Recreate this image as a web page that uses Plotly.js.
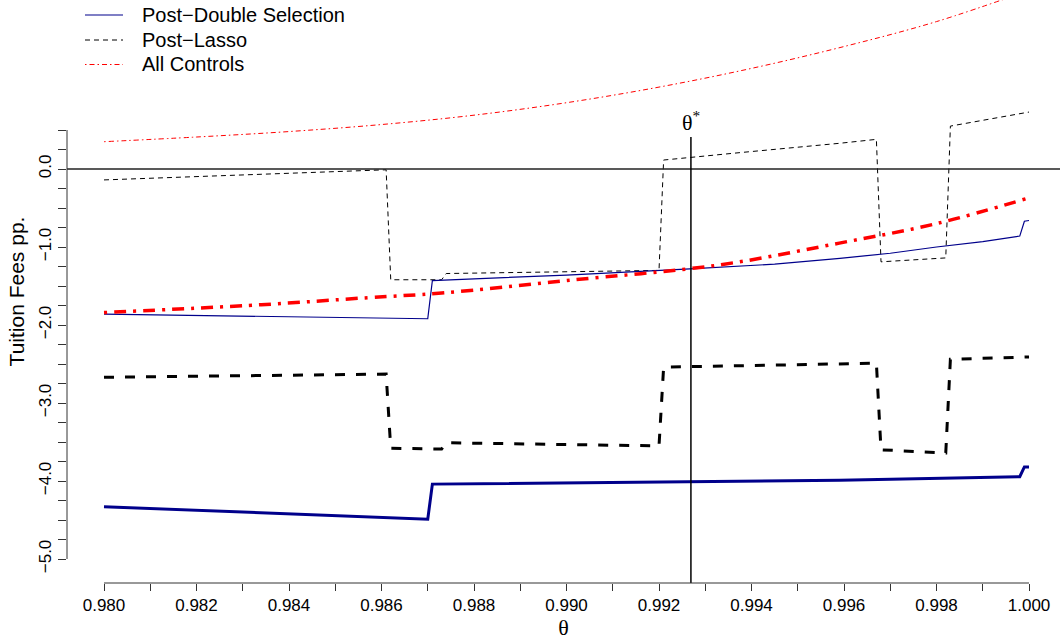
<!DOCTYPE html>
<html><head><meta charset="utf-8">
<script src="https://cdn.plot.ly/plotly-3.0.1.min.js"></script>
<style>html,body{margin:0;padding:0;background:#fff}</style>
</head><body>
<div id="chart" style="width:1060px;height:641px"></div>
<script>
// ---- data ----
const legendLabels = ["Post\u2212Double Selection", "Post\u2212Lasso", "All Controls"];
const xTickVals = [0.980,0.982,0.984,0.986,0.988,0.990,0.992,0.994,0.996,0.998,1.000];
const xTickText = ["0.980","0.982","0.984","0.986","0.988","0.990","0.992","0.994","0.996","0.998","1.000"];
const xMinorVals = [0.981,0.983,0.985,0.987,0.989,0.991,0.993,0.995,0.997,0.999];
const yTickVals = [-5,-4,-3,-2,-1,0];
const yTickText = ["\u22125.0","\u22124.0","\u22123.0","\u22122.0","\u22121.0","0.0"];
const yMinorVals = [-4.75,-4.5,-4.25,-3.75,-3.5,-3.25,-2.75,-2.5,-2.25,-1.75,-1.5,-1.25,-0.75,-0.5,-0.25,0.25,0.5];
const thetaStar = 0.99269;

// Post-Double Selection (thin)
const pdsThinTheta = [0.9800,0.9870,0.9871,0.9900,0.99267,0.9945,0.99591,0.9970,0.9980,0.9990,0.9998,0.9999,1.0000];
const pdsThinValue = [-1.86,-1.92,-1.43,-1.36,-1.28,-1.22,-1.145,-1.08,-1.00,-0.93,-0.86,-0.67,-0.66];
// Post-Lasso (thin)
const plThinTheta = [0.9800,0.9830,0.9861,0.9862,0.9873,0.9874,0.9920,0.9921,0.99269,0.99375,0.99591,0.9967,0.9968,0.9982,0.9983,0.9999,1.0000];
const plThinValue = [-0.14,-0.075,-0.01,-1.42,-1.42,-1.34,-1.30,0.115,0.15,0.21,0.33,0.38,-1.19,-1.14,0.55,0.72,0.73];
// All Controls (thin)
const acThinTheta = [0.980,0.982,0.984,0.986,0.988,0.990,0.992,0.994,0.996,0.998,1.000];
const acThinValue = [0.35,0.41,0.48,0.57,0.69,0.85,1.05,1.29,1.57,1.89,2.29];
// Post-Double Selection (thick)
const pdsThickTheta = [0.9800,0.9870,0.9871,0.99332,0.99591,0.9998,0.9999,1.0000];
const pdsThickValue = [-4.33,-4.49,-4.04,-4.01,-3.99,-3.945,-3.82,-3.82];
// Post-Lasso (thick)
const plThickTheta = [0.9800,0.9861,0.9862,0.9873,0.9874,0.9920,0.9921,0.9967,0.9968,0.9982,0.9983,1.0000];
const plThickValue = [-2.67,-2.63,-3.58,-3.59,-3.51,-3.55,-2.54,-2.49,-3.60,-3.64,-2.44,-2.41];
// All Controls (thick)
const acThickTheta = [0.9800,0.9834,0.9857,0.9873,0.9900,0.9933,0.9959,0.9980,1.0000];
const acThickValue = [-1.84,-1.74,-1.65,-1.59,-1.43,-1.23,-0.95,-0.70,-0.37];

// ---- styles ----
const BLUE = "#00008B", BLACK = "#000000", RED = "#FF0000";
const FONT = "Liberation Sans, Arial, Helvetica, sans-serif";
const SERIF = "Liberation Serif, DejaVu Serif, serif";

const xRange = [0.9792, 1.00067];
const yRange = [-5.3077, 2.1667];

function tr(x, y, color, width, dash, name, shape) {
  return {x: x, y: y, type: "scatter", mode: "lines", name: name, showlegend: false,
          line: {color: color, width: width, dash: dash, shape: shape || "linear"}, hoverinfo: "skip"};
}

const traces = [
  tr(acThinTheta, acThinValue, RED, 1, "1.5px,3px,5px,3px", legendLabels[2], "spline"),
  tr(plThinTheta, plThinValue, BLACK, 1, "5px,4px", legendLabels[1]),
  tr(pdsThinTheta, pdsThinValue, BLUE, 1.2, "solid", legendLabels[0]),
  tr(acThickTheta, acThickValue, RED, 3.5, "3px,7px,12px,7px", legendLabels[2], "spline"),
  tr(plThickTheta, plThickValue, BLACK, 3, "10px,11px", legendLabels[1]),
  tr(pdsThickTheta, pdsThickValue, BLUE, 3, "solid", legendLabels[0])
];

// legend (manual, R-style)
const W = 1060, H = 641, ML = 67, MR = 0, MT = 0, MB = 58;
const PW = W - ML - MR, PH = H - MT - MB;
const px = v => (v - ML) / PW;
const py = v => 1 - (v - MT) / PH;
const legStyles = [
  {color: BLUE, width: 1.2, dash: "solid"},
  {color: BLACK, width: 1, dash: "5px,4px"},
  {color: RED, width: 1, dash: "1.5px,3px,5px,3px"}
];
const legY = [15, 40, 64.5];

const shapes = [
  {type: "line", xref: "paper", yref: "y", x0: 0, x1: 1, y0: 0, y1: 0, line: {color: "#222", width: 1.7}},
  {type: "line", xref: "x", yref: "y", x0: thetaStar, x1: thetaStar, y0: yRange[0], y1: 0.41, line: {color: BLACK, width: 1.5}},
  {type: "line", xref: "x", yref: "paper", x0: 0.980, x1: 1.000, y0: 0, y1: 0, line: {color: "#333", width: 1}},
  {type: "line", xref: "paper", yref: "y", x0: 0, x1: 0, y0: -5, y1: 0.5, line: {color: "#333", width: 1}}
];
const annotations = [
  {x: thetaStar, y: 0.41, xref: "x", yref: "y", yanchor: "bottom", xanchor: "center", showarrow: false,
   text: "\u03b8<sup>*</sup>", font: {family: SERIF, size: 22, color: BLACK}}
];
legendLabels.forEach((lab, i) => {
  shapes.push({type: "line", xref: "paper", yref: "paper", x0: px(85), x1: px(123), y0: py(legY[i]), y1: py(legY[i]), line: legStyles[i]});
  annotations.push({x: px(140), y: py(legY[i]), xref: "paper", yref: "paper", xanchor: "left", yanchor: "middle",
                    showarrow: false, text: lab, font: {family: FONT, size: 20, color: BLACK}});
});

const layout = {
  width: W, height: H,
  margin: {l: ML, r: MR, t: MT, b: MB, pad: 0},
  paper_bgcolor: "#fff", plot_bgcolor: "#fff",
  showlegend: false,
  xaxis: {range: xRange, showgrid: false, zeroline: false, showline: false,
          tickmode: "array", tickvals: xTickVals, ticktext: xTickText,
          ticks: "outside", ticklen: 7, tickwidth: 1, tickcolor: "#333",
          minor: {tickmode: "array", tickvals: xMinorVals, ticks: "outside", ticklen: 7, tickwidth: 1, tickcolor: "#333", showgrid: false},
          tickfont: {family: FONT, size: 17, color: BLACK},
          title: {text: "\u03b8", font: {family: SERIF, size: 22, color: BLACK}, standoff: 5},
          automargin: false},
  yaxis: {range: yRange, showgrid: false, zeroline: false, showline: false,
          tickmode: "array", tickvals: yTickVals, ticktext: yTickText, tickangle: -90,
          ticks: "outside", ticklen: 8, tickwidth: 1, tickcolor: "#333",
          minor: {tickmode: "array", tickvals: yMinorVals, ticks: "outside", ticklen: 8, tickwidth: 1, tickcolor: "#333", showgrid: false},
          tickfont: {family: FONT, size: 17, color: BLACK},
          title: {text: "Tuition Fees pp.", font: {family: FONT, size: 21, color: BLACK}, standoff: 5},
          automargin: false},
  shapes: shapes,
  annotations: annotations
};

Plotly.newPlot("chart", traces, layout, {displayModeBar: false, staticPlot: true});
</script>
</body></html>
